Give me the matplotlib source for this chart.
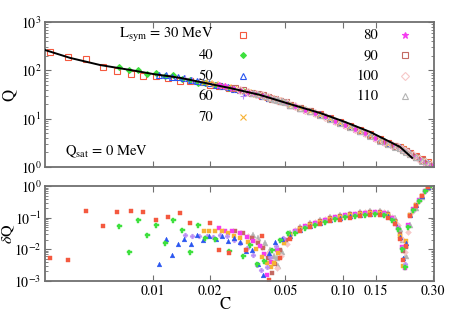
import matplotlib
matplotlib.use("Agg")
import matplotlib.pyplot as plt
from matplotlib.ticker import LogLocator, NullFormatter, NullLocator, FixedLocator, FixedFormatter

plt.rcParams['font.family'] = 'STIXGeneral'
plt.rcParams['mathtext.fontset'] = 'stix'

# 拟合曲线 (黑线)
c_fit = [0.00269, 0.00365, 0.00525, 0.00756, 0.0100, 0.0139, 0.0177, 0.0255,
         0.0367, 0.0529, 0.0761, 0.103, 0.140, 0.178, 0.201, 0.233]
q_fit = [264, 181, 129, 102, 84, 70, 57.5, 43, 31, 20, 13.1, 8.55, 5.3, 3.3, 2.6, 1.54]

# 密集区的 C 取值
grid_a = [0.0529, 0.0597, 0.0674, 0.0761, 0.0859, 0.0970, 0.110, 0.124, 0.140, 0.158,
          0.174, 0.189, 0.201, 0.2085, 0.216, 0.227, 0.244, 0.262, 0.282]
grid_b = [0.0562, 0.0634, 0.0716, 0.0808, 0.0913, 0.103, 0.116, 0.131, 0.148, 0.165,
          0.182, 0.196, 0.206, 0.213, 0.221, 0.235, 0.253, 0.272, 0.293]

# L_sym = 30
c30 = [0.00286, 0.00356, 0.00443, 0.00545, 0.00646, 0.00766, 0.00886, 0.0104, 0.0120,
       0.0139, 0.0157, 0.0200, 0.0223, 0.0252, 0.0310, 0.0376, 0.0410, 0.0468] + grid_a + [0.300]
q30 = [245, 185, 174, 119, 95, 85, 77, 76, 68, 60, 59, 48.6, 47.5, 43, 35.6, 29.6, 27.3, 23.2,
       19.6, 16.9, 14.4, 12.3, 10.2, 8.5, 7.05, 5.7, 4.7, 3.72, 3.12, 2.73, 2.55, 2.33, 2.18,
       1.95, 1.70, 1.47, 1.24, 1.05]
dq30 = [0.0054, 0.0047, 0.159, 0.053, 0.148, 0.159, 0.148, 0.082, 0.102, 0.137, 0.066, 0.066,
        0.0098, 0.0078, 0.0098, 0.027, 0.0011, 0.0054,
        0.021, 0.037, 0.050, 0.062, 0.077, 0.088, 0.098, 0.110, 0.119, 0.119, 0.100, 0.062,
        0.022, 0.0045, 0.013, 0.11, 0.24, 0.48, 0.95, 1.4]

# L_sym = 40
c40 = [0.00662, 0.00747, 0.00833, 0.0093, 0.0104, 0.01157, 0.01275, 0.0142, 0.0157, 0.0173,
       0.0188, 0.0212, 0.0252, 0.0299, 0.0325, 0.0354, 0.0385, 0.0425, 0.0468, 0.0516] + grid_b
q40 = [117, 102, 104, 85, 88, 76, 80, 65, 62, 55.5, 54, 49, 43.2, 36.8, 34, 32, 29.2, 25.7,
       22.8, 20.1,
       18.1, 15.5, 13.2, 11.2, 9.08, 7.64, 6.29, 5.08, 4.09, 3.39, 2.88, 2.61, 2.38, 2.21,
       2.02, 1.77, 1.52, 1.30, 1.11]
dq40 = [0.053, 0.0084, 0.088, 0.029, 0.057, 0.0163, 0.088, 0.042, 0.0084, 0.057, 0.0235,
        0.0218, 0.0091, 0.0063, 0.0141, 0.0035, 0.0043, 0.0098, 0.0203, 0.032,
        0.034, 0.047, 0.060, 0.075, 0.090, 0.105, 0.113, 0.125, 0.130, 0.125, 0.084, 0.043,
        0.010, 0.0028, 0.050, 0.17, 0.35, 0.68, 1.1]

# L_sym = 50
c50 = [0.01076, 0.01171, 0.0126, 0.01355, 0.01457, 0.01587, 0.01707, 0.01836, 0.01974,
       0.0215, 0.0231, 0.0249, 0.0268, 0.0288, 0.0310, 0.0333, 0.0358, 0.0381, 0.0409,
       0.0441, 0.0479] + grid_a
q50 = [81, 78.7, 74, 71.7, 68.5, 63.6, 60.9, 57, 54.2, 50.5, 48, 44.9, 42, 39.1, 36.2, 34.2,
       31.8, 29.9, 27.4, 25.4, 23.1,
       19.5, 16.8, 14.3, 12.2, 10.1, 8.37, 6.93, 5.6, 4.6, 3.63, 3.06, 2.7, 2.54, 2.3, 2.13,
       1.9, 1.64, 1.41, 1.19]
dq50 = [0.0035, 0.0218, 0.0067, 0.0151, 0.0218, 0.0151, 0.029, 0.0203, 0.027, 0.0218, 0.027,
        0.0188, 0.0235, 0.0175, 0.0091, 0.0098, 0.0035, 0.0015, 0.0078, 0.0175, 0.022,
        0.026, 0.042, 0.056, 0.070, 0.087, 0.101, 0.113, 0.126, 0.136, 0.136, 0.113, 0.070,
        0.025, 0.0055, 0.016, 0.12, 0.25, 0.49, 0.92]

# L_sym = 60
c60 = [0.01475, 0.01606, 0.01749, 0.01927, 0.0207, 0.0226, 0.0246, 0.0268, 0.0288, 0.0313,
       0.0337, 0.0354, 0.0371, 0.0400, 0.0415, 0.0446, 0.0485] + grid_b
q60 = [68.6, 63.8, 59.7, 55.3, 52.1, 48.9, 45.9, 41.8, 39.0, 35.9, 33.6, 32.1, 30.8, 28.4,
       27.0, 24.6, 22.5,
       18.0, 15.5, 13.15, 11.15, 9.03, 7.58, 6.23, 5.02, 4.04, 3.35, 2.86, 2.6, 2.37, 2.2,
       2.01, 1.76, 1.51, 1.29, 1.1]
dq60 = [0.029, 0.027, 0.027, 0.027, 0.025, 0.029, 0.027, 0.0203, 0.0163, 0.0113, 0.0067,
        0.0032, 0.0022, 0.0028, 0.0058, 0.0131, 0.0235,
        0.037, 0.050, 0.065, 0.081, 0.097, 0.113, 0.122, 0.135, 0.141, 0.135, 0.090, 0.047,
        0.011, 0.0035, 0.054, 0.18, 0.36, 0.69, 1.15]

# L_sym = 70
c70 = [0.01858, 0.01974, 0.02124, 0.0231, 0.0249, 0.0268, 0.0288, 0.0317, 0.0350, 0.0376,
       0.0400, 0.0419, 0.0435, 0.0457, 0.0491] + grid_a
q70 = [57.5, 54.9, 51.9, 48.4, 45.5, 42.1, 39.3, 35.8, 32.6, 30.4, 28.4, 26.5, 25.4, 24.1, 22.4,
       19.4, 16.7, 14.2, 12.1, 9.98, 8.3, 6.86, 5.54, 4.53, 3.59, 3.03, 2.68, 2.53, 2.3, 2.12,
       1.88, 1.62, 1.40, 1.18]
dq70 = [0.039, 0.039, 0.037, 0.037, 0.032, 0.027, 0.0235, 0.0175, 0.0105, 0.0058, 0.0037,
        0.0028, 0.0037, 0.0078, 0.0163,
        0.028, 0.045, 0.060, 0.074, 0.093, 0.108, 0.120, 0.134, 0.145, 0.145, 0.120, 0.075,
        0.026, 0.0030, 0.018, 0.125, 0.255, 0.50, 0.90]

# L_sym = 80
c80 = [0.0223, 0.0240, 0.0261, 0.0288, 0.0313, 0.0337, 0.0367, 0.0385, 0.0400, 0.0419,
       0.0451, 0.0491] + grid_b
q80 = [50.2, 47.3, 43.8, 39.7, 36.4, 34.0, 31.4, 29.4, 28.3, 26.5, 24.2, 22.4,
       18.0, 15.4, 13.1, 11.1, 8.98, 7.53, 6.19, 4.98, 4.0, 3.32, 2.84, 2.59, 2.37, 2.2, 2.0,
       1.75, 1.5, 1.28, 1.1]
dq80 = [0.046, 0.039, 0.039, 0.034, 0.025, 0.0188, 0.0131, 0.0072, 0.0015, 0.004, 0.0098, 0.0203,
        0.039, 0.053, 0.068, 0.085, 0.102, 0.119, 0.128, 0.142, 0.148, 0.142, 0.095, 0.049,
        0.0121, 0.0025, 0.057, 0.184, 0.36, 0.69, 1.15]

# L_sym = 90
c90 = [0.0271, 0.0299, 0.0333, 0.0358, 0.0381, 0.0404, 0.0425, 0.0441, 0.0468, 0.0503] + grid_a
q90 = [42.1, 38.3, 34.7, 32.2, 30.2, 27.7, 26.0, 25.1, 23.5, 21.7,
       19.4, 16.7, 14.1, 12.05, 9.92, 8.25, 6.81, 5.5, 4.49, 3.56, 3.01, 2.67, 2.52, 2.28, 2.1,
       1.86, 1.6, 1.38, 1.16]
dq90 = [0.037, 0.034, 0.0235, 0.0163, 0.0113, 0.0054, 0.0018, 0.0035, 0.0098, 0.0203,
        0.030, 0.047, 0.063, 0.078, 0.098, 0.113, 0.127, 0.141, 0.152, 0.152, 0.127, 0.080,
        0.030, 0.009, 0.012, 0.12, 0.25, 0.50, 0.90]

# L_sym = 100
c100 = [0.0288, 0.0317, 0.0350, 0.0376, 0.0404, 0.0430, 0.0451, 0.0474, 0.0510] + grid_b
q100 = [39.7, 36.2, 32.9, 30.6, 27.8, 25.8, 24.1, 23.1, 21.3,
        17.9, 15.4, 13.1, 11.0, 8.9, 7.47, 6.14, 4.93, 3.96, 3.29, 2.82, 2.57, 2.35, 2.18,
        1.98, 1.73, 1.48, 1.26, 1.08]
dq100 = [0.034, 0.027, 0.0188, 0.0121, 0.0078, 0.0040, 0.0026, 0.0063, 0.0151,
         0.041, 0.056, 0.072, 0.090, 0.108, 0.126, 0.136, 0.150, 0.157, 0.151, 0.105, 0.060,
         0.022, 0.008, 0.035, 0.16, 0.35, 0.68, 1.12]

# L_sym = 110
c110 = [0.0337, 0.0358, 0.0390, 0.0415, 0.0435, 0.0451, 0.0457, 0.0479, 0.0497] + grid_a
q110 = [34.4, 32.4, 29.3, 27.1, 25.5, 24.1, 24.0, 22.8, 22.0,
        19.3, 16.6, 14.1, 12.0, 9.85, 8.17, 6.75, 5.43, 4.43, 3.51, 2.97, 2.62, 2.48, 2.25,
        2.08, 1.84, 1.58, 1.36, 1.14]
dq110 = [0.029, 0.0235, 0.0163, 0.0098, 0.0063, 0.0054, 0.0030, 0.0084, 0.0175,
         0.032, 0.051, 0.067, 0.084, 0.105, 0.121, 0.135, 0.151, 0.163, 0.163, 0.140, 0.095,
         0.045, 0.020, 0.006, 0.06, 0.20, 0.45, 0.85]

l_sym = [30, 40, 50, 60, 70, 80, 90, 100, 110]
c_all = [c30, c40, c50, c60, c70, c80, c90, c100, c110]
q_all = [q30, q40, q50, q60, q70, q80, q90, q100, q110]
dq_all = [dq30, dq40, dq50, dq60, dq70, dq80, dq90, dq100, dq110]

colors = ['#f4593f', '#3ee03e', '#2a56f0', '#b98cf5', '#f7b234',
          '#f53cf0', '#c46a62', '#f7c8c8', '#b4b4b4']
# 上图标记 (marker, 是否空心, 大小)
top_style = [('s', True, 4.2), ('D', False, 3.0), ('^', True, 4.0), ('+', False, 5.0),
             ('x', False, 4.0), ('*', False, 5.0), ('s', True, 4.2), ('D', True, 3.8),
             ('^', True, 4.5)]
low_style = [('s', 3.2), ('P', 3.6), ('^', 3.4), ('P', 3.4), ('s', 3.0),
             ('s', 3.2), ('s', 3.4), ('D', 3.0), ('^', 3.8)]

xticks = [0.01, 0.02, 0.05, 0.10, 0.15, 0.30]
xticklabels = ['0.01', '0.02', '0.05', '0.10', '0.15', '0.30']

fig = plt.figure(figsize=(4.49, 3.15), dpi=100)
ax1 = fig.add_axes([0.1002, 0.470, 0.8664, 0.460])
ax2 = fig.add_axes([0.1002, 0.108, 0.8664, 0.301])

spine_col = '#707070'


def style_axes(ax):
    ax.set_xscale('log')
    ax.set_yscale('log')
    ax.set_xlim(0.00269, 0.304)
    ax.xaxis.set_major_locator(FixedLocator(xticks))
    ax.xaxis.set_minor_locator(NullLocator())
    ax.yaxis.set_major_locator(LogLocator(base=10, numticks=10))
    ax.yaxis.set_minor_locator(LogLocator(base=10, subs=range(2, 10), numticks=10))
    ax.yaxis.set_minor_formatter(NullFormatter())
    ax.tick_params(which='both', direction='in', top=True, right=True,
                   color=spine_col, labelsize=10, pad=2.5)
    ax.tick_params(which='major', length=4, width=0.8)
    ax.tick_params(which='minor', length=2, width=0.6)
    for s in ax.spines.values():
        s.set_color(spine_col)
        s.set_linewidth(1.3)


style_axes(ax1)
style_axes(ax2)

# 上图: Q
for i in range(len(l_sym)):
    m, hollow, ms = top_style[i]
    ax1.plot(c_all[i], q_all[i], linestyle='none', marker=m, ms=ms,
             mfc='none' if hollow else colors[i], mec=colors[i], mew=0.8)
ax1.plot(c_fit, q_fit, color='black', lw=1.4, zorder=5)
ax1.set_ylim(1, 1000)
ax1.xaxis.set_major_formatter(NullFormatter())
ax1.set_ylabel('Q', fontsize=12)
ax1.yaxis.set_label_coords(-0.07, 0.5)

# 图例 (手动放置)
rows_y = [0.910, 0.772, 0.628, 0.490, 0.345]
labels_left = [r'L$_{\rm sym}$ = 30 MeV', '40', '50', '60', '70']
labels_right = ['80', '90', '100', '110']
for j, lab in enumerate(labels_left):
    ax1.text(0.432, rows_y[j], lab, transform=ax1.transAxes, ha='right', va='center', fontsize=10.5)
    m, hollow, ms = top_style[j]
    ax1.plot([0.509], [rows_y[j]], transform=ax1.transAxes, marker=m, ms=ms,
             mfc='none' if hollow else colors[j], mec=colors[j], mew=0.8, linestyle='none')
for j, lab in enumerate(labels_right):
    k = j + 5
    ax1.text(0.856, rows_y[j], lab, transform=ax1.transAxes, ha='right', va='center', fontsize=10.5)
    m, hollow, ms = top_style[k]
    ax1.plot([0.925], [rows_y[j]], transform=ax1.transAxes, marker=m, ms=ms,
             mfc='none' if hollow else colors[k], mec=colors[k], mew=0.8, linestyle='none')

ax1.text(0.051, 0.103, r'Q$_{\rm sat}$ = 0 MeV', transform=ax1.transAxes,
         ha='left', va='center', fontsize=10.5)

# 下图: δQ
for i in reversed(range(len(l_sym))):
    m, ms = low_style[i]
    ax2.plot(c_all[i], dq_all[i], linestyle='none', marker=m, ms=ms,
             mfc=colors[i], mec=colors[i], mew=0.3)
ax2.set_ylim(1e-3, 1)
ax2.xaxis.set_major_formatter(FixedFormatter(xticklabels))
ax2.set_ylabel(r'$\delta$Q', fontsize=11.5)
ax2.yaxis.set_label_coords(-0.072, 0.5)
ax2.set_xlabel('C', fontsize=12)
ax2.xaxis.set_label_coords(0.463, -0.17)

fig.savefig('out.png', dpi=100)
